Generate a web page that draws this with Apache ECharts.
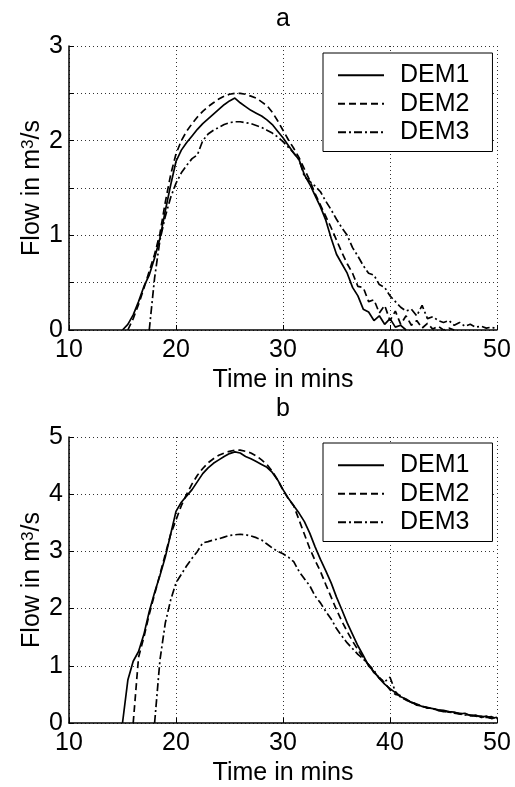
<!DOCTYPE html>
<html>
<head>
<meta charset="utf-8">
<script src="https://cdn.jsdelivr.net/npm/echarts@6/dist/echarts.min.js"></script>
<style>
  html, body { margin: 0; padding: 0; background: #fff; }
  #main { width: 515px; height: 787px; }
</style>
</head>
<body>
<div id="main"></div>
<script>
// time axis, 0.5 min steps from 14 to 50
var minutes = [14, 14.5, 15, 15.5, 16, 16.5, 17, 17.5, 18, 18.5,
  19, 19.5, 20, 20.5, 21, 21.5, 22, 22.5, 23, 23.5,
  24, 24.5, 25, 25.5, 26, 26.5, 27, 27.5, 28, 28.5,
  29, 29.5, 30, 30.5, 31, 31.5, 32, 32.5, 33, 33.5,
  34, 34.5, 35, 35.5, 36, 36.5, 37, 37.5, 38, 38.5,
  39, 39.5, 40, 40.5, 41, 41.5, 42, 42.5, 43, 43.5,
  44, 44.5, 45, 45.5, 46, 46.5, 47, 47.5, 48, 48.5,
  49, 49.5, 50]
var names = ['DEM1', 'DEM2', 'DEM3']

// panel a
var flowA1 = [null, null, 0, 0.06, 0.16, 0.3, 0.46, 0.58, 0.76, 0.97,
  1.26, 1.53, 1.78, 1.9, 1.98, 2.05, 2.12, 2.18, 2.23, 2.28,
  2.33, 2.38, 2.42, 2.45, 2.4, 2.36, 2.32, 2.29, 2.26, 2.22,
  2.17, 2.1, 2.03, 1.95, 1.87, 1.8, 1.64, 1.54, 1.42, 1.3,
  1.16, 0.97, 0.8, 0.7, 0.6, 0.45, 0.36, 0.22, 0.19, 0.1,
  0.15, 0.06, 0.12, 0.03, 0.05, 0, null, null, null, null,
  null, null, null, null, null, null, null, null, null, null,
  null, null, null]
var flowA2 = [null, null, null, 0, 0.12, 0.27, 0.44, 0.62, 0.8, 1.02,
  1.35, 1.64, 1.86, 2.0, 2.1, 2.18, 2.25, 2.31, 2.36, 2.4,
  2.44, 2.47, 2.49, 2.5, 2.5, 2.49, 2.47, 2.45, 2.41, 2.37,
  2.3, 2.21, 2.11, 2.01, 1.92, 1.82, 1.7, 1.58, 1.44, 1.32,
  1.2, 1.08, 0.95, 0.82, 0.7, 0.6, 0.46, 0.45, 0.3, 0.32,
  0.18, 0.26, 0.1, 0.2, 0.06, 0.15, 0.05, 0.1, 0.02, 0.07,
  0.01, 0.04, 0, 0.02, 0, null, null, null, null, null,
  null, null, null]
var flowA3 = [null, null, null, null, null, null, null, 0, 0.55, 0.95,
  1.2, 1.4, 1.55, 1.66, 1.74, 1.81, 1.85, 2.0, 2.07, 2.11,
  2.14, 2.17, 2.19, 2.2, 2.2, 2.19, 2.18, 2.16, 2.14, 2.11,
  2.08, 2.04, 1.99, 1.93, 1.87, 1.8, 1.62, 1.57, 1.52, 1.46,
  1.36, 1.27, 1.17, 1.08, 1.0, 0.87, 0.78, 0.68, 0.6, 0.58,
  0.48, 0.45, 0.36, 0.3, 0.24, 0.2, 0.22, 0.15, 0.26, 0.12,
  0.14, 0.1, 0.08, 0.1, 0.05, 0.08, 0.04, 0.06, 0.03, 0.04,
  0.02, 0.03, 0.01]

// panel b
var flowB1 = [null, null, 0, 0.75, 1.08, 1.25, 1.55, 1.95, 2.28, 2.58,
  2.9, 3.3, 3.7, 3.86, 3.97, 4.08, 4.22, 4.36, 4.46, 4.54,
  4.6, 4.66, 4.71, 4.74, 4.72, 4.66, 4.62, 4.57, 4.52, 4.47,
  4.38, 4.25, 4.08, 3.93, 3.8, 3.67, 3.52, 3.32, 3.08, 2.86,
  2.66, 2.45, 2.2, 1.98, 1.75, 1.55, 1.35, 1.18, 1.0, 0.9,
  0.78, 0.68, 0.6, 0.53, 0.46, 0.42, 0.36, 0.33, 0.29, 0.27,
  0.25, 0.23, 0.22, 0.2, 0.19, 0.16, 0.17, 0.13, 0.14, 0.1,
  0.12, 0.08, 0.1]
var flowB2 = [null, null, null, null, 0, 1.15, 1.5, 1.9, 2.25, 2.6,
  2.95, 3.3, 3.55, 3.8, 4.0, 4.18, 4.33, 4.45, 4.55, 4.62,
  4.68, 4.72, 4.75, 4.77, 4.77, 4.75, 4.72, 4.67, 4.6, 4.52,
  4.4, 4.25, 4.07, 3.92, 3.8, 3.55, 3.3, 3.05, 2.84, 2.65,
  2.42, 2.2, 1.98, 1.78, 1.6, 1.43, 1.28, 1.14, 1.02, 0.88,
  0.8, 0.7, 0.58, 0.5, 0.48, 0.4, 0.37, 0.31, 0.3, 0.26,
  0.26, 0.22, 0.21, 0.19, 0.18, 0.17, 0.15, 0.14, 0.12, 0.12,
  0.1, 0.11, 0.07]
var flowB3 = [null, null, null, null, null, null, null, null, 0, 1.1,
  1.75, 2.15, 2.45, 2.6, 2.75, 2.88, 3.0, 3.15, 3.17, 3.2,
  3.22, 3.25, 3.28, 3.29, 3.3, 3.29, 3.27, 3.24, 3.2, 3.13,
  3.06, 3.0, 2.96, 2.9, 2.82, 2.65, 2.52, 2.4, 2.22, 2.1,
  1.95, 1.82, 1.65, 1.52, 1.4, 1.3, 1.2, 1.12, 1.02, 0.92,
  0.78, 0.72, 0.8, 0.55, 0.45, 0.4, 0.36, 0.33, 0.29, 0.27,
  0.25, 0.22, 0.2, 0.2, 0.17, 0.16, 0.14, 0.13, 0.12, 0.1,
  0.1, 0.08, 0.08]

var font = 'Liberation Sans, Arial, sans-serif'
var dashTypes = ['solid', [7, 4], [8, 3, 2, 3]]

function pairs(arr) {
  return minutes.map(function (t, i) { return [t, arr[i]] })
}

function makeX(idx) {
  return {
    type: 'value', gridIndex: idx, min: 10, max: 50, interval: 10,
    name: 'Time in mins', nameLocation: 'middle', nameGap: 38, nameMoveOverlap: false,
    nameTextStyle: { fontSize: 25, color: '#000', fontFamily: font },
    axisLine: { lineStyle: { color: '#000', width: 1.5 } },
    axisTick: { inside: true, length: 5, lineStyle: { color: '#000' } },
    axisLabel: { fontSize: 25, color: '#000', fontFamily: font, margin: 8 },
    splitLine: { show: true, lineStyle: { color: '#333', type: [1, 3], width: 1 } }
  }
}

function makeY(idx, max, step) {
  return {
    type: 'value', gridIndex: idx, min: 0, max: max, interval: step,
    name: '{n|Flow in m}{s|3}{n|/s}', nameLocation: 'middle', nameRotate: 90,
    nameGap: 24, nameMoveOverlap: false,
    nameTextStyle: {
      color: '#000', fontFamily: font, fontSize: 25,
      rich: {
        n: { fontSize: 25, color: '#000', fontFamily: font },
        s: { fontSize: 17, color: '#000', fontFamily: font, verticalAlign: 'top' }
      }
    },
    axisLine: { show: true, lineStyle: { color: '#000', width: 1.5 } },
    axisTick: { show: true, inside: true, length: 5, lineStyle: { color: '#000' } },
    axisLabel: {
      fontSize: 25, color: '#000', fontFamily: font, margin: 6,
      formatter: function (v) { return v % 1 === 0 ? String(v) : '' }
    },
    splitLine: { show: true, lineStyle: { color: '#333', type: [1, 3], width: 1 } }
  }
}

function makeLegend(top) {
  return {
    left: 323, top: top, orient: 'vertical', data: names, selectedMode: false,
    itemWidth: 46, itemHeight: 14, itemGap: 0,
    padding: [8, 23, 5, 14],
    borderColor: '#000', borderWidth: 1, backgroundColor: '#fff',
    itemStyle: { opacity: 0 },
    textStyle: { fontSize: 25, color: '#000', fontFamily: font, lineHeight: 28.5, padding: [0, 0, 0, 11] }
  }
}

var series = []
;[[flowA1, flowA2, flowA3], [flowB1, flowB2, flowB3]].forEach(function (group, g) {
  group.forEach(function (arr, k) {
    series.push({
      name: names[k], type: 'line', xAxisIndex: g, yAxisIndex: g,
      data: pairs(arr), symbol: 'none', animation: false,
      lineStyle: { color: '#000', width: 1.7, type: dashTypes[k] },
      itemStyle: { color: '#000' }
    })
  })
})

var myChart = echarts.init(document.getElementById('main'))
myChart.setOption({
  backgroundColor: '#fff',
  animation: false,
  title: [
    { text: 'a', left: 283, top: 7, textAlign: 'center', padding: 0,
      textStyle: { fontSize: 25, fontWeight: 'normal', color: '#000', fontFamily: font } },
    { text: 'b', left: 283, top: 397, textAlign: 'center', padding: 0,
      textStyle: { fontSize: 25, fontWeight: 'normal', color: '#000', fontFamily: font } }
  ],
  legend: [makeLegend(53), makeLegend(443)],
  grid: [
    { left: 69, top: 46, width: 428, height: 284 },
    { left: 69, top: 437, width: 428, height: 286 }
  ],
  xAxis: [makeX(0), makeX(1)],
  yAxis: [makeY(0, 3, 0.5), makeY(1, 5, 1)],
  series: series
})
</script>
</body>
</html>
